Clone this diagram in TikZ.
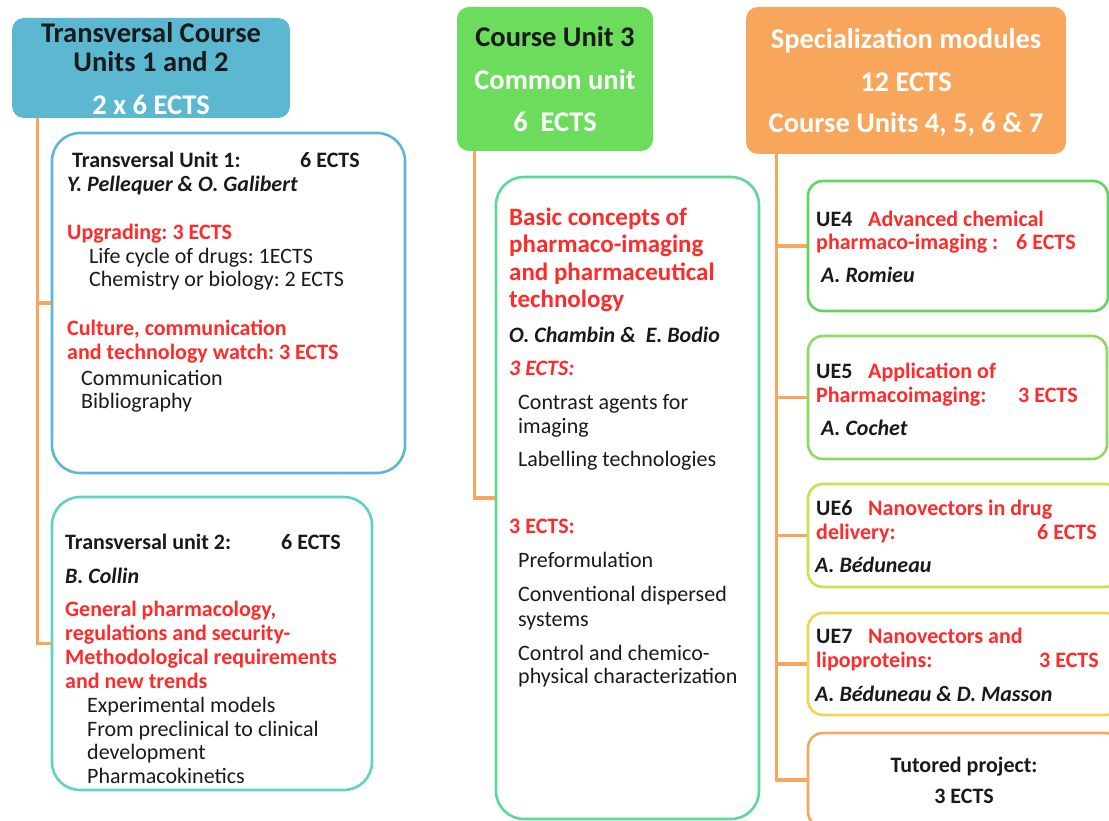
\documentclass[tikz,border=0pt]{standalone}
\usepackage{fontspec}
\setmainfont{Carlito}
\usepackage{xcolor}
\usetikzlibrary{positioning}

\definecolor{inkC}{HTML}{1A1A1A}
\definecolor{redC}{HTML}{FF2B2B}
\definecolor{blueC}{HTML}{5BB8D0}
\definecolor{tealC}{HTML}{5DD3C0}
\definecolor{greenH}{HTML}{6BDC5B}
\definecolor{mintC}{HTML}{5ED896}
\definecolor{orangeH}{HTML}{F8A65B}
\definecolor{ueA}{HTML}{5CD65C}
\definecolor{ueB}{HTML}{8FD962}
\definecolor{ueC}{HTML}{C6E24C}
\definecolor{ueD}{HTML}{F1D457}

\begin{document}
\frenchspacing
\begin{tikzpicture}[x=1pt,y=-1pt,
  hdr/.style={rounded corners=12pt, inner sep=0pt},
  unit/.style={draw, line width=2.6pt, rounded corners=28pt, inner sep=0pt},
  ue/.style={draw, line width=2.6pt, rounded corners=15pt, inner sep=0pt},
  link/.style={draw=orangeH, line width=3.2pt},
  txt/.style={anchor=base west, inner sep=0pt, text=inkC, font=\fontsize{22}{24}\selectfont},
  bx/.style={txt, font=\fontsize{22}{24}\selectfont\bfseries},
  nm/.style={txt, font=\fontsize{22}{24}\selectfont\bfseries\itshape},
  rd/.style={txt, text=redC, font=\fontsize{22}{24}\selectfont\bfseries},
  htxt/.style={anchor=base, inner sep=0pt, font=\fontsize{28.5}{29}\selectfont\bfseries}]
\useasboundingbox (0,0) rectangle (1109,821);
\clip (0,0) rectangle (1109,821);

% Headers
\node[hdr, fill=blueC, minimum width=278pt, minimum height=100pt] (hdrL) at (151,68) {};
\node[hdr, fill=greenH, minimum width=196pt, minimum height=144pt] (hdrM) at (555,79) {};
\node[hdr, fill=orangeH, minimum width=320pt, minimum height=147pt] (hdrR) at (906,80.5) {};

\node[htxt, text=inkC] (hL1) at (151,43) {Transversal Course};
\node[htxt, text=inkC] (hL2) at (151,72) {Units 1 and 2};
\node[htxt, text=white] (hL3) at (151,115) {2 x 6 ECTS};
\node[htxt, text=inkC] (hM1) at (555,47) {Course Unit 3};
\node[htxt, text=white] (hM2) at (555,90) {Common unit};
\node[htxt, text=white] (hM3) at (555,132) {6~~ECTS};
\node[htxt, text=white] (hR1) at (906,49) {Specialization modules};
\node[htxt, text=white] (hR2) at (906,92) {12 ECTS};
\node[htxt, text=white] (hR3) at (906,133) {Course Units 4, 5, 6 \& 7};

% Boxes
\node[unit, draw=blueC, minimum width=353pt, minimum height=340pt] (tu1) at (228.5,303) {};
\node[unit, draw=tealC, minimum width=320pt, minimum height=293pt] (tu2) at (212,643.5) {};
\node[unit, draw=mintC, minimum width=263pt, minimum height=642pt] (cu3) at (627.5,498) {};
\node[ue, draw=ueA, minimum width=300pt, minimum height=130pt] (ue4) at (958,246) {};
\node[ue, draw=ueB, minimum width=299pt, minimum height=123pt] (ue5) at (957.5,397.5) {};
\node[ue, draw=ueC, minimum width=312pt, minimum height=103pt] (ue6) at (964,535.5) {};
\node[ue, draw=ueD, minimum width=312pt, minimum height=102pt] (ue7) at (964,664) {};
\node[ue, draw=orangeH, minimum width=312pt, minimum height=94pt] (tut) at (964,780) {};

% Connectors
\draw[link] ([xshift=26pt]hdrL.south west) |- (tu1.west);
\draw[link] ([xshift=26pt]hdrL.south west) |- (tu2.west);
\draw[link] ([xshift=18pt]hdrM.south west) |- (cu3.west);
\foreach \b in {ue4,ue5,ue6,ue7,tut}
  \draw[link] ([xshift=31pt]hdrR.south west) |- (\b.west);

% Transversal unit 1
\node[bx] (a1) at (72,168) {Transversal Unit 1:};
\node[bx] (a2) at (300,168) {6 ECTS};
\node[nm] (a3) at (67,192) {Y. Pellequer \& O. Galibert};
\node[rd] (a4) at (67,240) {Upgrading: 3 ECTS};
\node[txt] (a5) at (89,264) {Life cycle of drugs: 1ECTS};
\node[txt] (a6) at (89,287) {Chemistry or biology: 2 ECTS};
\node[rd] (a7) at (67,335) {Culture, communication};
\node[rd] (a8) at (67,359) {and technology watch: 3 ECTS};
\node[txt] (a9) at (81,385) {Communication};
\node[txt] (a10) at (81,408) {Bibliography};

% Transversal unit 2
\node[bx] (b1) at (65,549) {Transversal unit 2:};
\node[bx] (b2) at (281,549) {6 ECTS};
\node[nm] (b3) at (65,583) {B. Collin};
\node[rd] (b4) at (65,616) {General pharmacology,};
\node[rd] (b5) at (65,640) {regulations and security-};
\node[rd] (b6) at (65,664) {Methodological requirements};
\node[rd] (b7) at (65,688) {and new trends};
\node[txt] (b8) at (87,712) {Experimental models};
\node[txt] (b9) at (87,736) {From preclinical to clinical};
\node[txt] (b10) at (87,759) {development};
\node[txt] (b11) at (87,783) {Pharmacokinetics};

% Course unit 3
\node[rd, font=\fontsize{25}{27}\selectfont\bfseries] (c1) at (509,226) {Basic concepts of};
\node[rd, font=\fontsize{25}{27}\selectfont\bfseries] (c2) at (509,253) {pharmaco-imaging};
\node[rd, font=\fontsize{25}{27}\selectfont\bfseries] (c3) at (509,280) {and pharmaceutical};
\node[rd, font=\fontsize{25}{27}\selectfont\bfseries] (c4) at (509,307) {technology};
\node[nm] (c5) at (509,342) {O. Chambin \&~~E. Bodio};
\node[rd, font=\fontsize{22}{24}\selectfont\bfseries\itshape] (c6) at (509,375) {3 ECTS:};
\node[txt] (c7) at (518,409) {Contrast agents for};
\node[txt] (c8) at (518,433) {imaging};
\node[txt] (c9) at (518,466) {Labelling technologies};
\node[rd] (c10) at (509,533) {3 ECTS:};
\node[txt] (c11) at (518,567) {Preformulation};
\node[txt] (c12) at (518,601) {Conventional dispersed};
\node[txt] (c13) at (518,626) {systems};
\node[txt] (c14) at (518,660) {Control and chemico-};
\node[txt] (c15) at (518,683) {physical characterization};

% Specialization modules
\node[bx] (d1) at (816,227) {UE4};
\node[rd] (d2) at (868,227) {Advanced chemical};
\node[rd] (d3) at (816,250) {pharmaco-imaging :};
\node[rd] (d4) at (1016,250) {6 ECTS};
\node[nm] (d5) at (821,283) {A. Romieu};

\node[bx] (e1) at (816,378) {UE5};
\node[rd] (e2) at (868,378) {Application of};
\node[rd] (e3) at (816,402) {Pharmacoimaging:};
\node[rd] (e4) at (1018,402) {3 ECTS};
\node[nm] (e5) at (821,435) {A. Cochet};

\node[bx] (f1) at (816,515) {UE6};
\node[rd] (f2) at (868,515) {Nanovectors in drug};
\node[rd] (f3) at (816,539) {delivery:};
\node[rd] (f4) at (1037,539) {6 ECTS};
\node[nm] (f5) at (815,572) {A. Béduneau};

\node[bx] (g1) at (816,643) {UE7};
\node[rd] (g2) at (868,643) {Nanovectors and};
\node[rd] (g3) at (816,667) {lipoproteins:};
\node[rd] (g4) at (1039,667) {3 ECTS};
\node[nm] (g5) at (815,701) {A. Béduneau \& D. Masson};

\node[bx, anchor=base] (h1) at (964,772) {Tutored project:};
\node[bx, anchor=base] (h2) at (964,803) {3 ECTS};

\end{tikzpicture}
\end{document}
